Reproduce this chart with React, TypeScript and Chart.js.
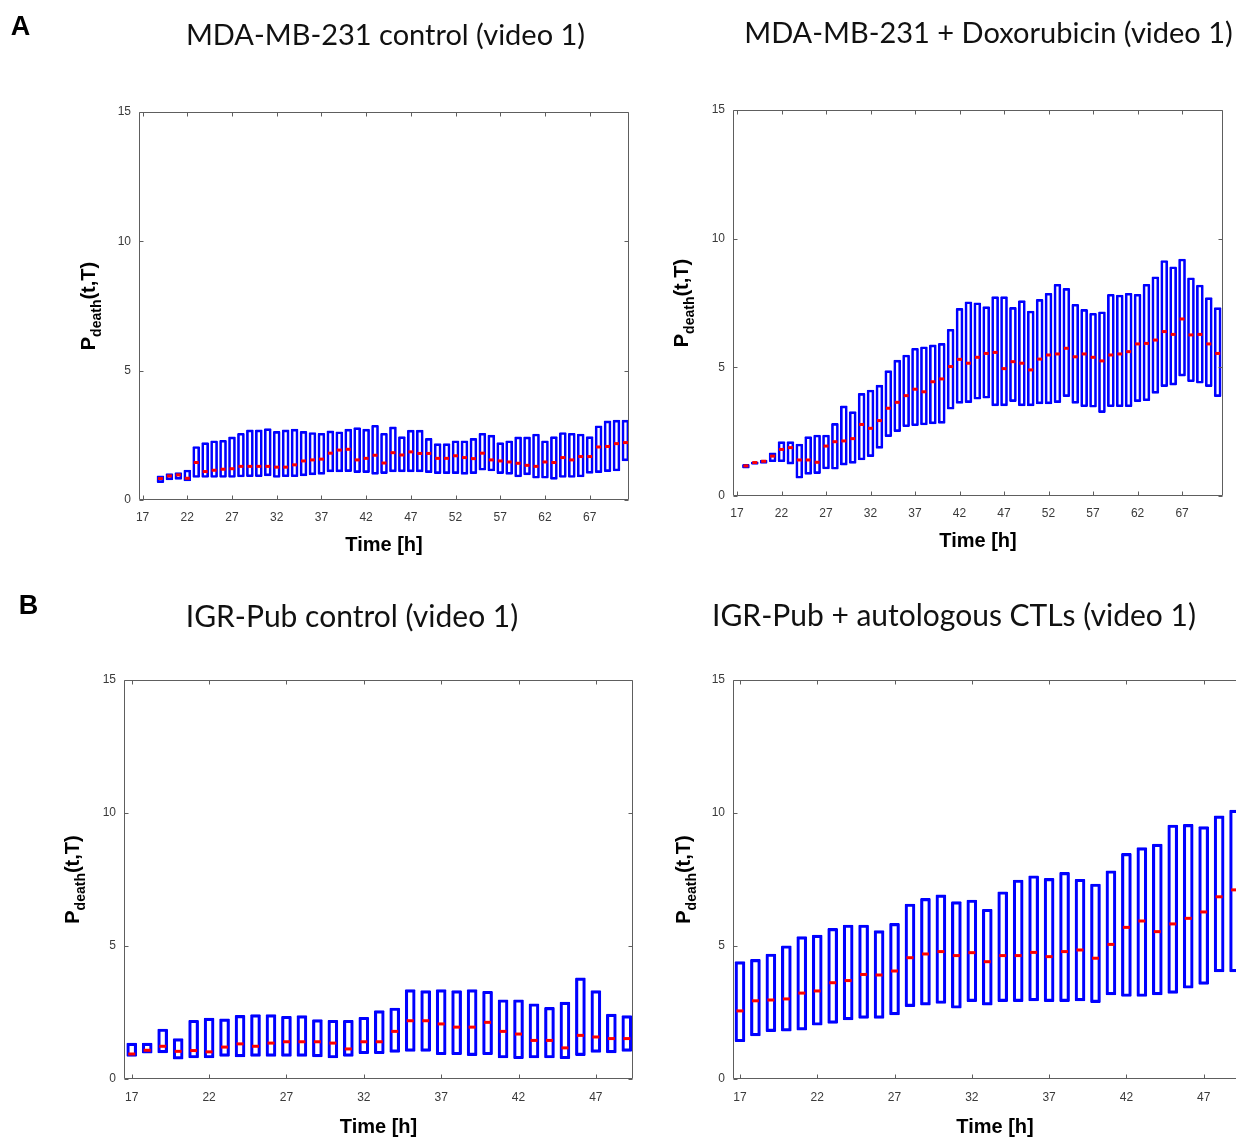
import React, { useEffect, useRef } from "react";
import { Chart, registerables } from "chart.js";

Chart.register(...registerables);

// ---------------- DATA ----------------
// Panel A, MDA-MB-231 control (video 1)
const A_CTRL_HOURS = [19, 20, 21, 22, 23, 24, 25, 26, 27, 28, 29, 30, 31, 32, 33, 34, 35, 36, 37, 38, 39, 40, 41, 42, 43, 44, 45, 46, 47, 48, 49, 50, 51, 52, 53, 54, 55, 56, 57, 58, 59, 60, 61, 62, 63, 64, 65, 66, 67, 68, 69, 70, 71];
const A_CTRL_LOW = [0.67, 0.78, 0.80, 0.74, 0.87, 0.87, 0.87, 0.87, 0.87, 0.89, 0.90, 0.90, 0.93, 0.87, 0.90, 0.90, 0.93, 0.97, 0.99, 1.09, 1.09, 1.10, 1.06, 1.06, 0.99, 1.02, 1.09, 1.09, 1.09, 1.09, 1.06, 1.02, 1.02, 1.02, 0.99, 1.02, 1.15, 1.12, 1.02, 0.99, 0.89, 0.97, 0.84, 0.84, 0.80, 0.87, 0.87, 0.89, 1.03, 1.06, 1.10, 1.12, 1.51];
const A_CTRL_HIGH = [0.93, 1.02, 1.06, 1.16, 2.07, 2.22, 2.29, 2.31, 2.44, 2.58, 2.71, 2.71, 2.76, 2.65, 2.71, 2.74, 2.65, 2.61, 2.58, 2.67, 2.64, 2.74, 2.80, 2.74, 2.89, 2.58, 2.83, 2.45, 2.70, 2.70, 2.38, 2.18, 2.18, 2.29, 2.29, 2.38, 2.58, 2.51, 2.22, 2.29, 2.44, 2.44, 2.55, 2.29, 2.45, 2.61, 2.58, 2.55, 2.45, 2.87, 3.06, 3.09, 3.09];
const A_CTRL_MED = [0.83, 0.93, 0.97, 0.84, 1.45, 1.10, 1.15, 1.19, 1.21, 1.30, 1.30, 1.30, 1.30, 1.27, 1.27, 1.36, 1.51, 1.55, 1.58, 1.81, 1.93, 1.96, 1.55, 1.61, 1.73, 1.43, 1.83, 1.74, 1.86, 1.80, 1.80, 1.61, 1.61, 1.71, 1.64, 1.60, 1.81, 1.55, 1.51, 1.47, 1.42, 1.34, 1.30, 1.47, 1.45, 1.64, 1.55, 1.68, 1.68, 2.05, 2.07, 2.18, 2.22];

// Panel A, MDA-MB-231 + Doxorubicin (video 1)
const A_DOX_HOURS = [18, 19, 20, 21, 22, 23, 24, 25, 26, 27, 28, 29, 30, 31, 32, 33, 34, 35, 36, 37, 38, 39, 40, 41, 42, 43, 44, 45, 46, 47, 48, 49, 50, 51, 52, 53, 54, 55, 56, 57, 58, 59, 60, 61, 62, 63, 64, 65, 66, 67, 68, 69, 70, 71];
const A_DOX_LOW = [1.08, 1.23, 1.27, 1.33, 1.33, 1.24, 0.69, 0.84, 0.87, 1.05, 1.04, 1.20, 1.27, 1.40, 1.53, 1.85, 2.31, 2.50, 2.69, 2.73, 2.76, 2.80, 2.82, 3.37, 3.60, 3.63, 3.76, 3.80, 3.50, 3.50, 3.67, 3.50, 3.50, 3.58, 3.58, 3.63, 3.86, 3.60, 3.47, 3.45, 3.24, 3.47, 3.47, 3.47, 3.67, 3.70, 3.99, 4.25, 4.31, 4.66, 4.44, 4.38, 4.25, 3.86];
const A_DOX_HIGH = [1.23, 1.33, 1.40, 1.68, 2.11, 2.11, 2.02, 2.31, 2.37, 2.37, 2.82, 3.50, 3.28, 3.99, 4.12, 4.31, 4.87, 5.28, 5.48, 5.74, 5.80, 5.87, 5.93, 6.48, 7.29, 7.55, 7.51, 7.36, 7.75, 7.75, 7.33, 7.59, 7.19, 7.64, 7.88, 8.23, 8.07, 7.45, 7.25, 7.10, 7.16, 7.84, 7.81, 7.88, 7.84, 8.23, 8.52, 9.15, 8.91, 9.21, 8.48, 8.20, 7.71, 7.32];
const A_DOX_MED = [1.17, 1.30, 1.35, 1.55, 1.81, 1.88, 1.40, 1.40, 1.31, 1.94, 2.11, 2.14, 2.23, 2.78, 2.63, 2.93, 3.41, 3.64, 3.90, 4.15, 4.05, 4.44, 4.55, 5.03, 5.31, 5.16, 5.39, 5.54, 5.58, 4.95, 5.22, 5.16, 4.90, 5.32, 5.48, 5.52, 5.74, 5.41, 5.52, 5.39, 5.25, 5.48, 5.52, 5.61, 5.91, 5.93, 6.06, 6.39, 6.28, 6.88, 6.26, 6.28, 5.91, 5.54];

// Panel B, IGR-Pub control (video 1)
const B_CTRL_HOURS = [17, 18, 19, 20, 21, 22, 23, 24, 25, 26, 27, 28, 29, 30, 31, 32, 33, 34, 35, 36, 37, 38, 39, 40, 41, 42, 43, 44, 45, 46, 47, 48, 49];
const B_CTRL_LOW = [0.85, 0.97, 0.98, 0.75, 0.79, 0.79, 0.85, 0.83, 0.85, 0.85, 0.85, 0.85, 0.83, 0.79, 0.85, 0.95, 0.95, 1.00, 1.04, 1.04, 0.91, 0.91, 0.88, 0.91, 0.79, 0.76, 0.79, 0.79, 0.76, 0.88, 1.00, 0.98, 1.04];
const B_CTRL_HIGH = [1.35, 1.35, 1.88, 1.52, 2.21, 2.29, 2.26, 2.39, 2.42, 2.42, 2.36, 2.38, 2.23, 2.21, 2.21, 2.32, 2.57, 2.67, 3.36, 3.32, 3.36, 3.32, 3.36, 3.30, 2.98, 2.98, 2.83, 2.69, 2.89, 3.80, 3.32, 2.44, 2.38];
const B_CTRL_MED = [0.94, 1.08, 1.23, 1.04, 1.07, 1.02, 1.20, 1.32, 1.23, 1.35, 1.40, 1.40, 1.40, 1.35, 1.13, 1.40, 1.40, 1.79, 2.19, 2.19, 2.07, 1.95, 1.95, 2.13, 1.79, 1.69, 1.45, 1.45, 1.17, 1.64, 1.58, 1.52, 1.52];

// Panel B, IGR-Pub + autologous CTLs (video 1)
const B_CTL_HOURS = [17, 18, 19, 20, 21, 22, 23, 24, 25, 26, 27, 28, 29, 30, 31, 32, 33, 34, 35, 36, 37, 38, 39, 40, 41, 42, 43, 44, 45, 46, 47, 48, 49];
const B_CTL_LOW = [1.40, 1.62, 1.78, 1.80, 1.84, 2.02, 2.09, 2.22, 2.28, 2.28, 2.41, 2.72, 2.78, 2.84, 2.66, 2.91, 2.78, 2.91, 2.91, 2.94, 2.91, 2.91, 2.94, 2.87, 3.16, 3.10, 3.10, 3.16, 3.22, 3.41, 3.56, 4.03, 4.03];
const B_CTL_HIGH = [4.41, 4.50, 4.70, 5.01, 5.35, 5.41, 5.66, 5.79, 5.79, 5.58, 5.85, 6.58, 6.79, 6.92, 6.67, 6.73, 6.38, 7.04, 7.48, 7.64, 7.54, 7.77, 7.51, 7.33, 7.83, 8.48, 8.70, 8.83, 9.55, 9.57, 9.49, 9.89, 10.11];
const B_CTL_MED = [2.56, 2.94, 2.97, 3.01, 3.23, 3.31, 3.62, 3.70, 3.93, 3.91, 4.06, 4.56, 4.70, 4.79, 4.64, 4.75, 4.41, 4.64, 4.64, 4.76, 4.60, 4.79, 4.85, 4.54, 5.06, 5.70, 5.94, 5.54, 5.83, 6.04, 6.28, 6.85, 7.11];

// Tick labels
const X_TICKS_A = [17, 22, 27, 32, 37, 42, 47, 52, 57, 62, 67];
const X_TICKS_B = [17, 22, 27, 32, 37, 42, 47];
const Y_TICKS = [0, 5, 10, 15];

// ---------------- STYLE ----------------
const AXIS_FONT = "'Liberation Sans', Arial, Helvetica, sans-serif";
const TITLE_FONT = "Lato, 'Open Sans', sans-serif";
const BLUE = "#0000ff";
const RED = "#ff0000";
const FRAME = "#5e5e5e";
const TICK_TEXT = "#3a3a3a";

const framePlugin = {
  id: "matlabFrame",
  afterDraw(chart: any, _args: any, opts: any) {
    const { ctx, chartArea: a, scales } = chart;
    const len = opts.tickLen || 4;
    const L = Math.round(a.left) + 0.5;
    const R = Math.round(a.right) - 0.5;
    const T = Math.round(a.top) + 0.5;
    const B = Math.round(a.bottom) - 0.5;
    ctx.save();
    ctx.strokeStyle = opts.color || FRAME;
    ctx.lineWidth = 1;
    ctx.beginPath();
    ctx.rect(L, T, R - L, B - T);
    for (const t of scales.x.ticks) {
      const px = Math.round(scales.x.getPixelForValue(t.value)) + 0.5;
      ctx.moveTo(px, B);
      ctx.lineTo(px, B - len);
      ctx.moveTo(px, T);
      ctx.lineTo(px, T + len);
    }
    for (const t of scales.y.ticks) {
      const py = Math.round(scales.y.getPixelForValue(t.value)) + 0.5;
      ctx.moveTo(L, py);
      ctx.lineTo(L + len, py);
      ctx.moveTo(R, py);
      ctx.lineTo(R - len, py);
    }
    ctx.stroke();
    ctx.restore();
  },
};

const yLabelPlugin = {
  id: "yLabel",
  afterDraw(chart: any, _args: any, opts: any) {
    const { ctx, chartArea: a } = chart;
    const size = opts.size || 20;
    const sub = opts.subSize || 14;
    const big = `bold ${size}px ${AXIS_FONT}`;
    const small = `bold ${sub}px ${AXIS_FONT}`;
    ctx.save();
    ctx.translate(a.left - opts.offset, (a.top + a.bottom) / 2);
    ctx.rotate(-Math.PI / 2);
    ctx.fillStyle = "#000";
    ctx.textBaseline = "alphabetic";
    ctx.textAlign = "left";
    ctx.font = big;
    const wP = ctx.measureText("P").width;
    const wT = ctx.measureText("(t,T)").width;
    ctx.font = small;
    const wD = ctx.measureText("death").width;
    const base = size * 0.36;
    let x = -(wP + wD + wT) / 2;
    ctx.font = big;
    ctx.fillText("P", x, base);
    x += wP;
    ctx.font = small;
    ctx.fillText("death", x, base + size * 0.28);
    x += wD;
    ctx.font = big;
    ctx.fillText("(t,T)", x, base);
    ctx.restore();
  },
};

type Panel = {
  hours: number[];
  low: number[];
  high: number[];
  med: number[];
  xTicks: number[];
  xMin: number;
  xMax: number;
  left: number;
  top: number;
  width: number;
  height: number;
  padRight: number;
  padTop: number;
  yWidth: number;
  xHeight: number;
  xTitlePad: number;
  xTickPad: number;
  barThickness: number;
  barBorder: number;
  medRadius: number;
  yLabelOffset: number;
};

const PANELS: Panel[] = [
  {
    hours: A_CTRL_HOURS, low: A_CTRL_LOW, high: A_CTRL_HIGH, med: A_CTRL_MED,
    xTicks: X_TICKS_A, xMin: 16.6, xMax: 71.4,
    left: 0, top: 0, width: 640, height: 570,
    padRight: 11, padTop: 112, yWidth: 139, xHeight: 70, xTitlePad: 13, xTickPad: 10,
    barThickness: 7, barBorder: 2, medRadius: 2.5, yLabelOffset: 51,
  },
  {
    hours: A_DOX_HOURS, low: A_DOX_LOW, high: A_DOX_HIGH, med: A_DOX_MED,
    xTicks: X_TICKS_A, xMin: 16.55, xMax: 71.6,
    left: 640, top: 0, width: 596, height: 570,
    padRight: 13, padTop: 110, yWidth: 93, xHeight: 74, xTitlePad: 17, xTickPad: 10,
    barThickness: 7, barBorder: 2, medRadius: 2.5, yLabelOffset: 52,
  },
  {
    hours: B_CTRL_HOURS, low: B_CTRL_LOW, high: B_CTRL_HIGH, med: B_CTRL_MED,
    xTicks: X_TICKS_B, xMin: 16.5, xMax: 49.4,
    left: 0, top: 570, width: 640, height: 570,
    padRight: 7, padTop: 110, yWidth: 124, xHeight: 61, xTitlePad: 1, xTickPad: 11,
    barThickness: 10, barBorder: 2.5, medRadius: 3.5, yLabelOffset: 52,
  },
  {
    hours: B_CTL_HOURS, low: B_CTL_LOW, high: B_CTL_HIGH, med: B_CTL_MED,
    xTicks: X_TICKS_B, xMin: 16.55, xMax: 50.45,
    left: 640, top: 570, width: 640, height: 570,
    padRight: 23, padTop: 110, yWidth: 93, xHeight: 61, xTitlePad: 1, xTickPad: 11,
    barThickness: 10, barBorder: 2.5, medRadius: 3.5, yLabelOffset: 50,
  },
];

const TITLES = [
  { text: "MDA-MB-231 control (video 1)", x: 385.5, y: 33, size: 29 },
  { text: "MDA-MB-231 + Doxorubicin (video 1)", x: 988.5, y: 31, size: 29 },
  { text: "IGR-Pub control (video 1)", x: 352, y: 615, size: 30 },
  { text: "IGR-Pub + autologous CTLs (video 1)", x: 954, y: 614, size: 30 },
];

const LETTERS = [
  { text: "A", x: 20.5, y: 26 },
  { text: "B", x: 28.5, y: 605 },
];

function ChartPanel({ p }: { p: Panel }) {
  const ref = useRef<HTMLCanvasElement | null>(null);
  useEffect(() => {
    const canvas = ref.current;
    if (!canvas) return;
    const chart = new Chart(canvas, {
      type: "bar",
      data: {
        datasets: [
          {
            type: "scatter",
            label: "median",
            data: p.hours.map((h, i) => ({ x: h, y: p.med[i] })),
            pointStyle: "line",
            pointRadius: p.medRadius,
            pointHoverRadius: p.medRadius,
            pointBorderWidth: 3,
            borderWidth: 3,
            borderColor: RED,
            backgroundColor: RED,
            order: 0,
          } as any,
          {
            type: "bar",
            label: "range",
            data: p.hours.map((h, i) => ({ x: h, y: [p.low[i], p.high[i]] })),
            backgroundColor: "rgba(255,255,255,0)",
            borderColor: BLUE,
            borderWidth: p.barBorder,
            borderSkipped: false,
            borderRadius: 1,
            barThickness: p.barThickness,
            order: 1,
          } as any,
        ],
      },
      options: {
        responsive: false,
        animation: false,
        events: [],
        layout: { padding: { left: 0, right: p.padRight, top: p.padTop, bottom: 0 } },
        plugins: {
          legend: { display: false },
          tooltip: { enabled: false },
          title: { display: false },
          matlabFrame: { color: FRAME, tickLen: 4 },
          yLabel: { offset: p.yLabelOffset, size: 20, subSize: 14 },
        } as any,
        scales: {
          x: {
            type: "linear",
            min: p.xMin,
            max: p.xMax,
            offset: false,
            grid: { display: false, drawTicks: false },
            border: { display: false },
            ticks: {
              font: { family: AXIS_FONT, size: 12 },
              color: TICK_TEXT,
              padding: p.xTickPad,
              maxRotation: 0,
              autoSkip: false,
            },
            afterBuildTicks: (s: any) => {
              s.ticks = p.xTicks.map((v) => ({ value: v }));
            },
            afterFit: (s: any) => {
              s.height = p.xHeight;
            },
            title: {
              display: true,
              text: "Time [h]",
              color: "#000",
              font: { family: AXIS_FONT, size: 20, weight: "bold" },
              padding: { top: 0, bottom: p.xTitlePad },
            },
          },
          y: {
            type: "linear",
            min: 0,
            max: 15,
            grid: { display: false, drawTicks: false },
            border: { display: false },
            ticks: {
              font: { family: AXIS_FONT, size: 12 },
              color: TICK_TEXT,
              padding: 8,
            },
            afterBuildTicks: (s: any) => {
              s.ticks = Y_TICKS.map((v) => ({ value: v }));
            },
            afterFit: (s: any) => {
              s.width = p.yWidth;
            },
          },
        },
      } as any,
      plugins: [framePlugin, yLabelPlugin],
    });
    return () => chart.destroy();
  }, [p]);
  return (
    <canvas
      ref={ref}
      width={p.width}
      height={p.height}
      style={{ position: "absolute", left: p.left, top: p.top, width: p.width, height: p.height }}
    />
  );
}

export default function App() {
  return (
    <div
      style={{
        position: "absolute",
        left: 0,
        top: 0,
        width: 1236,
        height: 1140,
        overflow: "hidden",
        background: "#fff",
      }}
    >
      {PANELS.map((p, i) => (
        <ChartPanel key={i} p={p} />
      ))}
      {TITLES.map((t, i) => (
        <div
          key={"t" + i}
          style={{
            position: "absolute",
            left: t.x,
            top: t.y,
            transform: "translate(-50%, -50%)",
            font: `${t.size}px ${TITLE_FONT}`,
            lineHeight: 1,
            whiteSpace: "nowrap",
            color: "#111",
          }}
        >
          {t.text}
        </div>
      ))}
      {LETTERS.map((t, i) => (
        <div
          key={"l" + i}
          style={{
            position: "absolute",
            left: t.x,
            top: t.y,
            transform: "translate(-50%, -50%)",
            font: `bold 27px ${AXIS_FONT}`,
            lineHeight: 1,
            color: "#000",
          }}
        >
          {t.text}
        </div>
      ))}
    </div>
  );
}
